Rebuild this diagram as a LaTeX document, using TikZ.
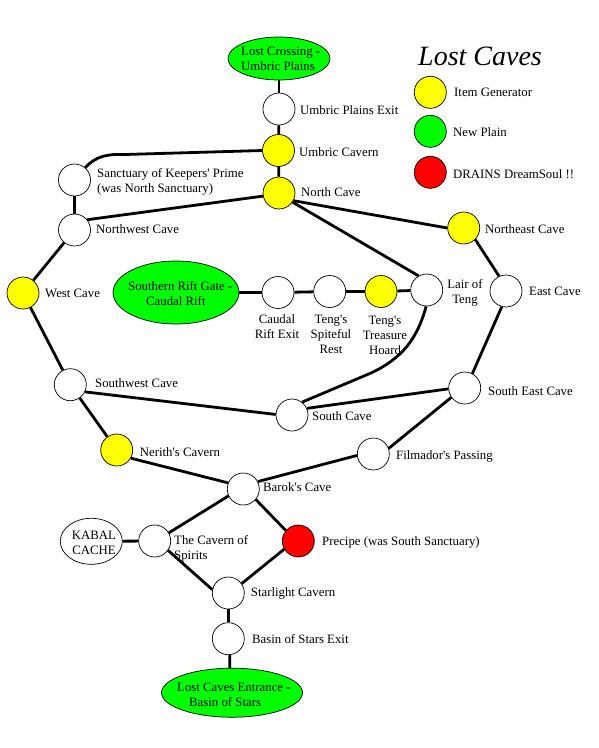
\documentclass[tikz,border=0pt]{standalone}
\usepackage{fontspec}
\setmainfont{Liberation Serif}[Ligatures=TeXOff]
\usetikzlibrary{shapes.geometric}
\definecolor{itemyellow}{RGB}{255,255,0}
\definecolor{plaingreen}{RGB}{0,255,0}
\definecolor{drainred}{RGB}{255,0,0}

\begin{document}
\begin{tikzpicture}[
    x=1pt,y=-1pt,
    cave/.style={circle,draw=black,fill=white,line width=0.7pt,inner sep=0pt,minimum size=32pt},
    itemcave/.style={cave,fill=itemyellow},
    plainoval/.style={ellipse,draw=black,fill=plaingreen,line width=0.7pt,inner sep=0pt},
    cacheoval/.style={plainoval,fill=white},
    tag/.style={anchor=west,align=left,inner sep=0pt,font=\fontsize{12.8}{15}\selectfont},
    undertag/.style={tag,anchor=center,align=center},
    link/.style={draw=black,line width=2.8pt}
  ]
    \useasboundingbox (0,0) rectangle (598,748);

    \node[plainoval,minimum width=102pt,minimum height=43pt] (crossing) at (279,58.5) {};
    \node[cave] (plainsexit) at (279,109) {};
    \node[itemcave] (umbric) at (278.5,150.5) {};
    \node[itemcave] (north) at (279,193) {};
    \node[cave] (sanctuary) at (74.5,180) {};
    \node[cave] (northwest) at (74.5,230) {};
    \node[itemcave] (west) at (23,293) {};
    \node[plainoval,minimum width=126pt,minimum height=63pt] (rift) at (176,292.5) {};
    \node[cave] (riftexit) at (278,292.5) {};
    \node[cave] (spiteful) at (329.7,291.5) {};
    \node[itemcave] (hoard) at (381,291.5) {};
    \node[cave] (lair) at (426.7,290) {};
    \node[cave] (east) at (506,291) {};
    \node[itemcave] (northeast) at (463.7,228) {};
    \node[cave] (southeast) at (464.7,388) {};
    \node[cave] (south) at (292,415) {};
    \node[cave] (southwest) at (70.3,384.7) {};
    \node[itemcave] (nerith) at (116.7,450) {};
    \node[cave] (filmador) at (373.3,454) {};
    \node[cave] (barok) at (243.3,489) {};
    \node[cave] (spirits) at (154.7,541) {};
    \node[cave,fill=drainred] (precipe) at (298.3,541) {};
    \node[cave] (starlight) at (228.3,593) {};
    \node[cave] (basinexit) at (228.3,638.7) {};
    \node[plainoval,minimum width=141pt,minimum height=49pt] (entrance) at (232,692.7) {};
    \node[cacheoval,minimum width=62pt,minimum height=46pt] (kabal) at (91.3,541.3) {};

    \node[itemcave] (keyitem) at (430.3,92.3) {};
    \node[cave,fill=plaingreen] (keyplain) at (430.3,131.3) {};
    \node[cave,fill=drainred] (keydrain) at (430.3,172.3) {};

    \coordinate (bendnorth) at (125,154.5);
    \coordinate (bendsouth) at (371,373);

    \draw[link] (crossing) -- (plainsexit);
    \draw[link] (plainsexit) -- (umbric);
    \draw[link] (umbric) -- (north);
    \draw[link] (sanctuary.49) to[out=48,in=178] (bendnorth) -- (umbric.west);
    \draw[link] (sanctuary) -- (northwest);
    \draw[link] (northwest.39) -- (north.191);
    \draw[link] (west) -- (northwest);
    \draw[link] (west) -- (southwest);
    \draw[link] (north.-28) -- (northeast.180);
    \draw[link] (north.-34) -- (lair.120);
    \draw[link] (northeast.-45) -- (east.115);
    \draw[link] (east.-105) -- (southeast.62);
    \draw[link] (rift) -- (riftexit);
    \draw[link] (riftexit) -- (spiteful);
    \draw[link] (spiteful) -- (hoard);
    \draw[link] (hoard) -- (lair);
    \draw[link] (lair.-92) to[out=-105,in=25] (bendsouth) -- (south.52);
    \draw[link] (south.24) -- (southeast.183);
    \draw[link] (southwest.-26) -- (south.178);
    \draw[link] (southwest) -- (nerith);
    \draw[link] (nerith.-30) -- (barok.158);
    \draw[link] (barok.27) -- (filmador.185);
    \draw[link] (filmador.20) -- (southeast.-145);
    \draw[link] (barok.-155) -- (spirits.30);
    \draw[link] (barok.-40) -- (precipe.140);
    \draw[link] (spirits.-35) -- (starlight.168);
    \draw[link] (precipe.-150) -- (starlight.35);
    \draw[link] (kabal) -- (spirits);
    \draw[link] (starlight) -- (basinexit);
    \draw[link] (basinexit.-85) -- (entrance.95);

    \node[anchor=west,inner sep=0pt,font=\fontsize{28}{30}\selectfont\itshape] (title) at (418,56) {Lost Caves};
    \node[tag] (lblitem) at (454,92) {Item Generator};
    \node[tag] (lblplain) at (453,132) {New Plain};
    \node[tag] (lbldrain) at (453,174) {DRAINS DreamSoul !!};

    \node[tag] (lblcrossing) at (241,59) {Lost Crossing -\\Umbric Plains};
    \node[tag] (lblrift) at (128,293.7) {Southern Rift Gate -\\\hspace*{18pt}Caudal Rift};
    \node[tag] (lblentrance) at (177,694.5) {Lost Caves Entrance -\\\hspace*{12pt}Basin of Stars};
    \node[undertag] (lblkabal) at (94,543) {KABAL\\CACHE};

    \node[tag] (lblplainsexit) at (300,110) {Umbric Plains Exit};
    \node[tag] (lblumbric) at (299,152) {Umbric Cavern};
    \node[tag] (lblnorth) at (301,192) {North Cave};
    \node[tag] (lblsanctuary) at (97,181.5) {Sanctuary of Keepers' Prime\\(was North Sanctuary)};
    \node[tag] (lblnorthwest) at (96,229) {Northwest Cave};
    \node[tag] (lblwest) at (45,293) {West Cave};
    \node[undertag] (lblriftexit) at (277,326.5) {Caudal\\Rift Exit};
    \node[undertag] (lblspiteful) at (331,334.5) {Teng's\\Spiteful\\Rest};
    \node[undertag] (lblhoard) at (385,335.5) {Teng's\\Treasure\\Hoard};
    \node[undertag] (lbllair) at (465,292.5) {Lair of\\Teng};
    \node[tag] (lbleast) at (529,291) {East Cave};
    \node[tag] (lblnortheast) at (485,229) {Northeast Cave};
    \node[tag] (lblsoutheast) at (488,391) {South East Cave};
    \node[tag] (lblsouth) at (312,416) {South Cave};
    \node[tag] (lblsouthwest) at (95,383) {Southwest Cave};
    \node[tag] (lblnerith) at (139.7,452) {Nerith's Cavern};
    \node[tag] (lblfilmador) at (396,456) {Filmador's Passing};
    \node[tag] (lblbarok) at (263,487) {Barok's Cave};
    \node[tag] (lblspirits) at (174,549) {The Cavern of\\Spirits};
    \node[tag] (lblprecipe) at (322,542) {Precipe (was South Sanctuary)};
    \node[tag] (lblstarlight) at (250.7,593) {Starlight Cavern};
    \node[tag] (lblbasinexit) at (252,639) {Basin of Stars Exit};
  \end{tikzpicture}
\end{document}
